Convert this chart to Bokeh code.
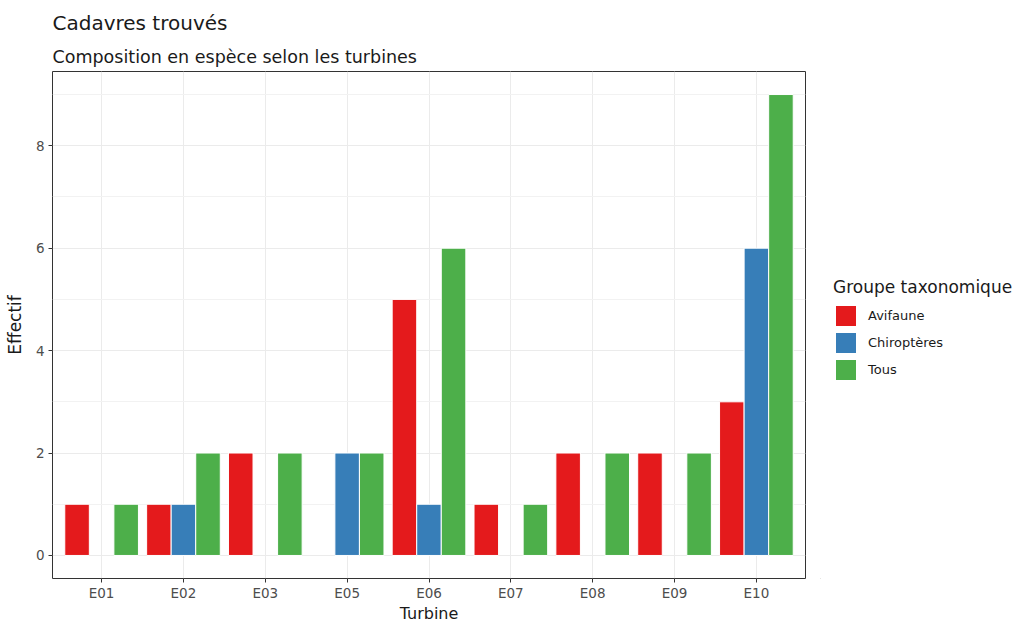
from bokeh.plotting import figure
from bokeh.models import (FactorRange, Range1d, ColumnDataSource, Legend, LegendItem,
                          FixedTicker, Title)
from bokeh.layouts import row
from bokeh.transform import dodge
from bokeh.embed import file_html
from bokeh.resources import INLINE

turbines = ["E01", "E02", "E03", "E05", "E06", "E07", "E08", "E09", "E10"]
groups = ["Avifaune", "Chiroptères", "Tous"]
avifaune = [1, 1, 2, 0, 5, 1, 2, 2, 3]
chiropteres = [0, 1, 0, 2, 1, 0, 0, 0, 6]
tous = [1, 2, 2, 2, 6, 1, 2, 2, 9]
colors = ["#E41A1C", "#377EB8", "#4DAF4A"]
y_ticks = [0, 2, 4, 6, 8]
y_minor = [1, 3, 5, 7, 9]

FONT = "DejaVu Sans"

p = figure(width=820, height=625, output_backend="svg", toolbar_location=None,
           x_range=FactorRange(factors=turbines, range_padding=0.1, range_padding_units="absolute"),
           y_range=Range1d(-0.45, 9.45),
           min_border_left=52, min_border_right=15, min_border_top=71, min_border_bottom=39,
           title=None)

p.add_layout(Title(text="Composition en espèce selon les turbines", text_font=FONT,
                   text_font_size="17.5px", text_font_style="normal", text_color="#1a1a1a",
                   align="left"), "above")
p.add_layout(Title(text="Cadavres trouvés", text_font=FONT, text_font_size="20px",
                   text_font_style="normal", text_color="#1a1a1a", align="left"), "above")

series = [avifaune, chiropteres, tous]
offsets = [-0.3, 0.0, 0.3]
for name, vals, col, off in zip(groups, series, colors, offsets):
    xs = [t for t, v in zip(turbines, vals) if v > 0]
    ys = [v for v in vals if v > 0]
    src = ColumnDataSource(dict(x=xs, top=ys))
    p.vbar(x=dodge("x", off, range=p.x_range), top="top", bottom=0, width=0.3,
           source=src, fill_color=col, line_color="white", line_width=1)

p.background_fill_color = "white"
p.outline_line_color = "#333333"
p.outline_line_width = 1

# grids
p.xgrid.grid_line_color = "#EBEBEB"
p.ygrid.grid_line_color = "#EBEBEB"
p.ygrid.minor_grid_line_color = "#F2F2F2"
p.yaxis.ticker = FixedTicker(ticks=y_ticks, minor_ticks=y_minor)

for ax in (p.xaxis[0], p.yaxis[0]):
    ax.axis_line_color = None
    ax.major_tick_line_color = "#333333"
    ax.major_tick_out = 4
    ax.major_tick_in = 0
    ax.minor_tick_line_color = None
    ax.major_label_text_font = FONT
    ax.major_label_text_font_size = "13.5px"
    ax.major_label_text_color = "#4D4D4D"
    ax.axis_label_text_font = FONT
    ax.axis_label_text_font_size = "17px"
    ax.axis_label_text_font_style = "normal"
    ax.axis_label_text_color = "#1a1a1a"

p.xaxis.axis_label = "Turbine"
p.yaxis.axis_label = "Effectif"
p.xaxis.major_label_standoff = 2
p.yaxis.major_label_standoff = 4
p.xaxis.axis_label_standoff = 0
p.yaxis.axis_label_standoff = 8
p.xaxis.axis_label_text_font_size = "16px"

# legend panel (swatch renderers sit entirely outside the visible ranges)
lg = figure(width=196, height=625, output_backend="svg", toolbar_location=None,
            x_range=Range1d(0, 1), y_range=Range1d(10, 11),
            x_axis_type=None, y_axis_type=None,
            min_border_left=0, min_border_right=0, min_border_top=0, min_border_bottom=0)
lg.outline_line_color = None
lg.xgrid.visible = False
lg.ygrid.visible = False
items = []
for name, col in zip(groups, colors):
    r = lg.vbar(x=[-5], top=[1], bottom=[0], width=0.3, fill_color=col,
                line_color=col, line_alpha=0)
    items.append(LegendItem(label=name, renderers=[r]))

legend = Legend(items=items, location=(13, 196), title="Groupe taxonomique",
                title_text_font=FONT, title_text_font_size="17px", title_text_color="#1a1a1a",
                title_text_font_style="normal", title_standoff=6,
                label_text_font=FONT, label_text_font_size="13px", label_text_color="#1a1a1a",
                glyph_width=25, glyph_height=25, spacing=2, padding=0, margin=0,
                background_fill_alpha=0, border_line_color=None, label_standoff=10)
lg.add_layout(legend, "center")

open("out.html", "w").write(file_html(row(p, lg), INLINE))
